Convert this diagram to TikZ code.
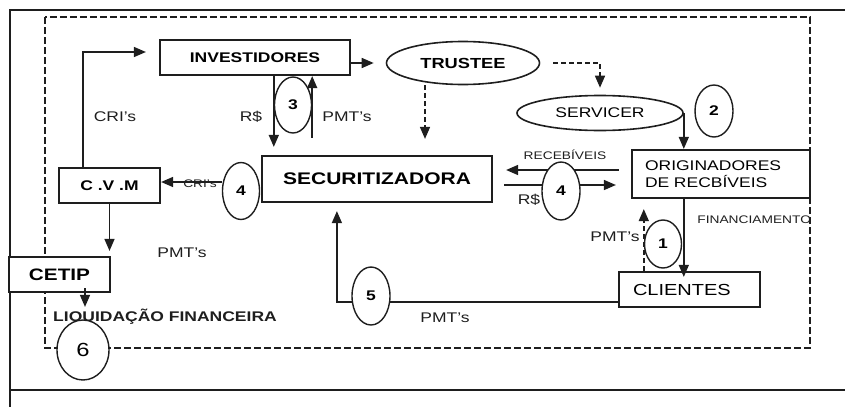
\documentclass[tikz,border=0pt]{standalone}
\usepackage{fontspec}
\setmainfont{Liberation Sans}[FakeStretch=1.25]
\usetikzlibrary{arrows.meta,shapes.geometric,backgrounds}
\definecolor{ink}{HTML}{1E1E1E}
\definecolor{paper}{HTML}{FFFFFF}
\tikzset{
    entbox/.style={
        draw=ink, fill=paper, line width=1.1pt,
        inner sep=0pt, font=\fontsize{7}{8.5}\selectfont\bfseries, align=center
    },
    entboxplain/.style={
        draw=ink, fill=paper, line width=1.1pt,
        inner xsep=6.5pt, inner ysep=0pt, align=left
    },
    roundent/.style={
        draw=ink, fill=paper, ellipse, line width=0.8pt, inner sep=0pt,
        font=\fontsize{7}{8.5}\selectfont
    },
    stepnum/.style={
        draw=ink, fill=paper, ellipse, line width=0.7pt, inner sep=0pt,
        font=\fontsize{7}{8.5}\selectfont\bfseries
    },
    flowlabel/.style={inner sep=1pt, text=ink, font=\fontsize{7}{8.5}\selectfont},
    smalllabel/.style={inner sep=1pt, text=ink, font=\fontsize{5.5}{6.5}\selectfont},
    framedash/.style={draw=ink, line width=0.8pt, dash pattern=on 3.5pt off 1.5pt},
    arrow/.style={-{Triangle[length=6pt,width=5pt]}, line width=0.75pt, color=ink},
    dasharrow/.style={arrow, dash pattern=on 2.5pt off 1.5pt},
}
\begin{document}
\begin{tikzpicture}[x=0.5pt, y=-0.5pt]
    \useasboundingbox (0,0) rectangle (845,407);
    % outer frame
    \draw[ink, line width=1.1pt] (845,10) -- (10,10) -- (10,407);
    \draw[ink, line width=1.1pt] (10,390) -- (845,390);

    % entities
    \node[entbox, minimum width=95pt, minimum height=17.5pt] (inv) at (255,57.5) {INVESTIDORES};
    \node[roundent, minimum width=76.5pt, minimum height=21.5pt, font=\fontsize{7.3}{8.5}\selectfont\bfseries] (trustee) at (463,63) {TRUSTEE};
    \node[roundent, minimum width=83pt, minimum height=17.5pt] (servicer) at (600,113) {SERVICER};
    \node[entbox, minimum width=115pt, minimum height=23pt, font=\fontsize{8.4}{10}\selectfont\bfseries] (secur) at (377,179) {SECURITIZADORA};
    \node[entboxplain, text width=76pt, minimum height=24pt, font=\fontsize{7}{8.5}\selectfont] (orig) at (721,174) {ORIGINADORES\\DE RECBÍVEIS};
    \node[entbox, minimum width=50.5pt, minimum height=17.5pt] (cvm) at (109.5,185.5) {C .V .M};
    \node[entbox, minimum width=50.5pt, minimum height=17.5pt, font=\fontsize{8.3}{10}\selectfont\bfseries] (cetip) at (59.5,274.5) {CETIP};
    \node[entboxplain, text width=56.5pt, inner xsep=7pt, minimum height=17.5pt, font=\fontsize{8}{10}\selectfont] (clientes) at (689.5,289.5) {CLIENTES};
    \node[flowlabel, font=\fontsize{7}{8.5}\selectfont\bfseries] (liq) at (165,317) {LIQUIDAÇÃO FINANCEIRA};

    % step numbers
    \node[stepnum, minimum width=18.5pt, minimum height=28pt] (n3) at (293,105) {3};
    \node[stepnum, minimum width=18.5pt, minimum height=28.5pt] (n4a) at (241,191) {4};
    \node[stepnum, minimum width=19pt, minimum height=29pt] (n4b) at (561,191) {4};
    \node[stepnum, minimum width=19pt, minimum height=26pt] (n2) at (714,111) {2};
    \node[stepnum, minimum width=18.5pt, minimum height=24pt] (n1) at (663,244) {1};
    \node[stepnum, minimum width=19pt, minimum height=29pt] (n5) at (371,296) {5};
    \node[stepnum, minimum width=26pt, minimum height=30pt, font=\fontsize{9.5}{11}\selectfont] (n6) at (83,350) {6};

    \coordinate (trdrop) at ([xshift=-19pt]trustee.south);
    \coordinate (criout) at ([yshift=4.5pt]n4a.west);
    \coordinate (cvmup) at ([xshift=-13.25pt]cvm.north);
    \coordinate (invin) at ([yshift=2.75pt]inv.west);
    \coordinate (cetipout) at ([xshift=12.75pt,yshift=2.5pt]cetip.south);
    \coordinate (recin) at ([yshift=2pt]orig.west);
    \coordinate (rsout) at ([yshift=-3pt]secur.east);
    \coordinate (cliout) at ([yshift=-6.25pt]clientes.west);
    \coordinate (secin) at ([xshift=38pt]secur.south west);

    \begin{scope}[on background layer]
        \draw[framedash] (45,17) rectangle (810,348);
        \draw[arrow, shorten >=6pt] (inv.east |- trustee.west) -- (trustee.west);
        \draw[dasharrow, shorten <=6.5pt, shorten >=3.5pt] (trustee.east) -| (servicer.north);
        \draw[dasharrow, shorten >=8pt] (trdrop) -- (trdrop |- secur.north);
        \draw[arrow] (servicer.east) -- (servicer.east |- orig.north);
        \draw[arrow, shorten >=4pt] (inv.south -| n3.west) -- (n3.west |- secur.north);
        \draw[arrow, shorten <=-2pt] (n3.east |- n3.south) -- (n3.east |- inv.south);
        \draw[arrow] (criout) -- (criout -| cvm.east);
        \draw[arrow, shorten >=6.5pt] (cvmup) |- (invin);
        \draw[arrow, shorten >=2.5pt] (cvm.south) -- (cvm.south |- cetip.north);
        \draw[arrow, shorten <=6pt, shorten >=6.5pt] (recin) -- (recin -| secur.east);
        \draw[arrow, shorten <=5.5pt, shorten >=7.5pt] (rsout) -- (rsout -| orig.west);
        \draw[dasharrow, shorten >=5pt] (n1.west |- clientes.north) -- (n1.west |- orig.south);
        \draw[arrow, shorten >=4pt] (cliout) -| (secin);
    \end{scope}
    \draw[arrow] (cetipout) -- (cetipout |- liq.north);
    \draw[arrow, shorten >=-3pt] (orig.south -| servicer.east) -- (servicer.east |- clientes.north);

    % flow labels
    \node[flowlabel] (lcri) at (115,117) {CRI's};
    \node[flowlabel] (lrs3) at (251,117) {R\$};
    \node[flowlabel] (lpmt3) at (347,117) {PMT's};
    \node[smalllabel] (lcri4) at (200,184) {CRI's};
    \node[smalllabel] (lrec) at (565,155) {RECEBÍVEIS};
    \node[flowlabel] (lrs4) at (529,200) {R\$};
    \node[smalllabel, anchor=west] (lfin) at (695,220) {FINANCIAMENTO};
    \node[flowlabel] (lpmt1) at (615,237) {PMT's};
    \node[flowlabel] (lpmt5) at (445,318) {PMT's};
    \node[flowlabel] (lpmtc) at (182,253) {PMT's};
\end{tikzpicture}
\end{document}
